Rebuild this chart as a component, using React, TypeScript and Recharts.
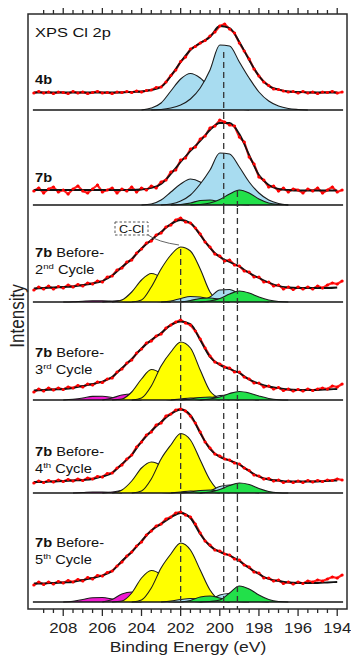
import { ComposedChart, Area, Line, XAxis, YAxis, ReferenceLine } from 'recharts'

// binding energy sampling grid (eV), 0.25 eV steps from 209.5 down to 193.75
const energies = Array.from({ length: 64 }, (_, k) => 209.5 - 0.25 * k)
// the fitted envelopes are read on every second point (0.5 eV)
const minorTicks = Array.from({ length: 31 }, (_, k) => 209 - 0.5 * k)

type Peak = { from: number; y: number[] }

// ---- raw counts (red dots), one value per 0.25 eV ----
const p1Raw = [17, 18.5, 17, 18, 16.5, 18, 17.5, 16.5, 18.5, 17, 18, 16.5, 17.5, 18.5, 17, 17.5, 16.5, 18, 17.5, 18.5, 17.5, 19, 18, 19.5, 20, 22.5, 23, 28, 34.5, 40, 48.5, 53, 61, 63.5, 67, 69.5, 74, 78, 84, 86, 81, 77, 67, 59, 51, 41, 34, 28, 24.5, 21, 20.5, 19, 18, 18.5, 17, 18.5, 17, 18, 16.5, 18, 17.5, 18.5, 17, 18]
const p2Raw = [14, 17, 12, 16, 18, 13, 15, 11, 16, 19, 14, 12, 16, 20, 13, 15, 17, 12, 16, 14, 18, 13, 17, 15, 19, 17, 23, 25, 33, 35, 45, 47, 56, 58, 66, 69, 77, 79, 85, 83, 80, 79, 68, 63, 48, 41, 28, 25, 18, 19, 14, 17, 13, 16, 15, 12, 16, 14, 17, 12, 15, 18, 13, 15]
const p3Raw = [12, 15, 13, 16, 13, 15.5, 14, 17, 15, 17.5, 16, 19, 18, 21, 20, 25, 26, 32, 34, 40, 42, 49, 53, 59, 61, 67, 69, 75, 77, 82, 84, 80, 79, 74, 68, 60, 55, 48, 46, 41, 42, 37, 36, 31, 30, 25, 25, 20, 20, 16, 17, 13, 15, 12.5, 15, 13, 15, 13, 16, 14, 17, 19, 18, 21]
const p4Raw = [8, 11, 9, 12, 10, 12, 10.5, 13, 12, 14.5, 13, 16, 15, 18, 17.5, 21, 22, 28, 31, 37, 40, 47, 51, 57, 59, 64, 66, 72, 75, 78, 80, 77, 75, 69, 61, 52, 44, 38, 36, 33, 32, 28, 28, 23, 21, 17, 17, 13, 14, 11, 12.5, 9.5, 11, 9, 10.5, 9, 11, 9.5, 11, 12, 11, 14, 13, 16]
const p5Raw = [10, 12, 10.5, 12.5, 11, 13, 11.5, 13.5, 12, 14, 12.5, 15, 14, 16.5, 16, 19.5, 20, 25, 28, 34, 38, 46, 51, 58, 61, 68, 70, 77, 79, 83, 84, 82, 77, 70, 61, 51, 45, 39, 37, 34, 33, 30, 29, 25, 22.5, 18, 17, 14, 14.5, 12, 13, 10.5, 12, 10.5, 12, 10.5, 12.5, 11, 12.5, 11.5, 13, 12.5, 14, 13]
const p6Raw = [17, 20, 17.5, 20, 18, 20.5, 19, 21.5, 20, 22.5, 21, 24.5, 23, 26.5, 26, 29.5, 31, 36, 40, 46, 50, 56, 60, 67, 71, 76, 78, 83, 85, 89, 90, 87, 85, 78, 69, 61, 57, 52, 51, 48, 47, 43, 42, 37, 35, 30, 29, 24, 24, 21, 22, 18.5, 20, 18, 20, 18.5, 21, 20, 22, 21, 23, 25, 24, 27]

// ---- fitted envelopes (black), one value per 0.5 eV from 209.5 to 194 ----
const p1Fit = [17.5, 17.5, 17.5, 17.5, 17.5, 17.5, 17.5, 17.5, 17.5, 17.5, 18, 18.5, 20, 23, 34, 48, 60, 67, 73, 84, 82, 68, 50, 34, 24, 20.5, 18.5, 18, 17.5, 17.5, 17.5, 17.5]
const p2Fit = [15, 15, 15, 15, 15, 15, 15, 15, 15, 15, 15, 15.5, 17, 21, 31, 43, 54, 64, 75, 82, 82, 71, 50, 30, 20, 16, 15, 14.5, 14.5, 14.5, 14.5, 14.5]
const p3Fit = [13.5, 14, 14.5, 15, 15.5, 17, 18.5, 21, 26.5, 35, 43, 53.5, 62, 70, 78, 82, 79, 67, 54, 45, 40, 35.5, 29, 24, 19.5, 16, 14.5, 14, 14, 14, 14, 14.5]
const p4Fit = [9.5, 10, 10.5, 11, 12, 14, 16, 18.5, 23, 32, 41, 51.5, 60, 67, 75, 78.5, 76, 60, 43, 35, 31, 27, 20.5, 16.5, 13.5, 12, 10.5, 10, 10, 10, 10.5, 11]
const p5Fit = [11, 11, 11.5, 12, 12.5, 13, 14, 16.5, 20, 29, 38, 51.5, 62, 71, 79, 83.5, 78, 60, 44, 36, 32.5, 28.5, 22, 16.5, 13.5, 12.5, 11.5, 11.5, 11.5, 11.5, 12, 12.5]
const p6Fit = [18.5, 18.5, 19, 19.5, 20, 22, 24, 26.5, 31, 41, 50, 61, 71.5, 78, 84.5, 89, 84, 68, 56, 50, 46.5, 41, 34, 28, 23, 21, 19.5, 19, 19, 19, 19.5, 20]

// ---- fitted components, 0.5 eV steps starting at `from` ----
const p1BlueA: Peak = { from: 204, y: [0, 2, 7, 19, 31, 36.5, 32, 22, 11, 4, 1, 0] }
const p1BlueB: Peak = { from: 203.5, y: [0, 0.5, 2, 5, 11, 22, 40, 65, 64, 48, 32, 18, 9, 4, 1.5, 0.5, 0] }

const p2BlueA: Peak = { from: 204, y: [0, 1, 5, 13, 21, 26, 23, 15, 7, 2.5, 0.5, 0] }
const p2BlueB: Peak = { from: 203, y: [0, 1, 4, 10, 21, 35, 52, 51, 38, 23, 12, 5, 1.5, 0] }
const p2GreenA: Peak = { from: 202.5, y: [0, 0.5, 2, 4.5, 5, 3, 1, 0] }
const p2GreenB: Peak = { from: 201.5, y: [0, 0.5, 2, 5.5, 11, 15, 12, 6, 2, 0.5, 0] }

const p3MagA: Peak = { from: 208, y: [0, 0.3, 0.8, 1.2, 1.2, 0.8, 0.3, 0] }
const p3MagB: Peak = { from: 206, y: [0, 0.8, 1.8, 2.2, 1.8, 0.8, 0.2, 0] }
const p3YelA: Peak = { from: 205.5, y: [0, 2, 10, 22, 28.5, 24, 12, 4, 1, 0] }
const p3YelB: Peak = { from: 204.5, y: [0, 2, 15, 33, 47, 55, 51, 33, 10, 1, 0] }
const p3BlueA: Peak = { from: 203, y: [0, 1, 3.5, 5.5, 5, 3, 1, 0] }
const p3BlueB: Peak = { from: 201.5, y: [0, 1, 5, 12, 12.5, 8, 3.5, 1, 0] }
const p3GreenA: Peak = { from: 202, y: [0, 1.5, 3.5, 4, 2.5, 1, 0] }
const p3GreenB: Peak = { from: 201, y: [0, 1, 3.5, 8, 11, 9, 5, 2, 0.5, 0] }

const p4MagA: Peak = { from: 208, y: [0, 0.8, 2, 3.6, 3.8, 2.5, 1, 0.3, 0] }
const p4MagB: Peak = { from: 206, y: [0, 2, 5, 6, 4.5, 2, 0.8, 0] }
const p4YelA: Peak = { from: 205.5, y: [0, 1, 8, 21, 30.5, 26, 14, 5, 1, 0] }
const p4YelB: Peak = { from: 204.5, y: [0, 2, 14, 34, 48, 58, 52, 30, 9, 2, 0] }
const p4BlueA: Peak = { from: 202.5, y: [0, 1, 2, 2, 1, 0] }
const p4BlueB: Peak = { from: 201, y: [0, 1.5, 4.5, 5, 3, 1, 0] }
const p4GreenA: Peak = { from: 202, y: [0, 1, 2.5, 3, 2, 0.8, 0] }
const p4GreenB: Peak = { from: 201, y: [0, 1, 3, 6.5, 8.5, 7, 4, 1.5, 0.3, 0] }

const p5MagA: Peak = { from: 207.5, y: [0, 0.5, 1, 1, 0.5, 0] }
const p5MagB: Peak = { from: 206, y: [0, 1, 2.5, 3.5, 3, 1.5, 0.5, 0] }
const p5YelA: Peak = { from: 205.5, y: [0, 3, 12, 25, 31, 27, 15, 5, 1, 0] }
const p5YelB: Peak = { from: 204.5, y: [0, 2, 14, 34, 48, 59.5, 53, 33, 13, 2, 0] }
const p5BlueA: Peak = { from: 202.5, y: [0, 1, 2, 1.8, 1, 0] }
const p5BlueB: Peak = { from: 201, y: [0, 2, 6.5, 8, 4.5, 1.5, 0] }
const p5GreenA: Peak = { from: 202, y: [0, 1, 2.5, 3, 2, 0.8, 0] }
const p5GreenB: Peak = { from: 201, y: [0, 1, 3.5, 7.5, 10, 8.5, 4.5, 1.5, 0.3, 0] }

const p6MagA: Peak = { from: 208, y: [0, 0.8, 2.5, 4.3, 4.5, 3, 1.2, 0.3, 0] }
const p6MagB: Peak = { from: 206, y: [0, 2.5, 8, 10, 7.5, 3.5, 1.2, 0.3, 0] }
const p6YelA: Peak = { from: 205.5, y: [0, 1, 9, 24, 31.5, 27, 15, 5, 1, 0] }
const p6YelB: Peak = { from: 204.5, y: [0, 2, 14, 34, 48, 59, 52, 32, 12, 2, 0] }
const p6BlueA: Peak = { from: 203, y: [0, 1, 2.5, 3.5, 3, 1.5, 0.5, 0] }
const p6BlueB: Peak = { from: 201, y: [0, 2, 7, 8.5, 5, 2, 0.5, 0] }
const p6GreenA: Peak = { from: 202, y: [0, 1.5, 5, 6, 4, 1.5, 0.3, 0] }
const p6GreenB: Peak = { from: 201, y: [0, 0.5, 2, 9, 16, 13, 7, 2.5, 0.5, 0] }

const BLUE = '#a8dcf0'
const GREEN = '#22e04a'
const YELLOW = '#ffff00'
const MAGENTA = '#f01ad0'
const FONT = '"Liberation Sans", Arial, sans-serif'
const X_DOMAIN: [number, number] = [193.5, 209.8]

function buildRows(raw: number[], fit: number[], peaks: Peak[]) {
  return energies.map((e, k) => {
    const row: Record<string, number | undefined> = { e, raw: raw[k] }
    if (k % 2 === 0) row.fit = fit[k / 2]
    peaks.forEach((p, i) => {
      const j = (p.from - e) / 0.5
      const r = Math.round(j)
      if (Math.abs(j - r) < 1e-6 && r >= 0 && r < p.y.length) row['c' + i] = p.y[r]
    })
    return row
  })
}

const topTick = (props: any) => {
  const { x, y, payload } = props
  const len = payload.value % 2 === 0 ? 6 : 4
  return <line x1={x} x2={x} y1={y} y2={y - len} stroke="#2a2a2a" strokeWidth={1.3} />
}

const bottomTick = (props: any) => {
  const { x, y, payload } = props
  const major = payload.value % 2 === 0
  return (
    <g>
      <line x1={x} x2={x} y1={y} y2={y + (major ? 7 : 4)} stroke="#2a2a2a" strokeWidth={1.3} />
      {major && (
        <g transform={`translate(${x},${y + 24}) scale(1.2,1)`}>
          <text textAnchor="middle" fontSize={14} fontFamily={FONT} fill="#222">
            {payload.value}
          </text>
        </g>
      )}
    </g>
  )
}

type PanelProps = {
  top: number
  height: number
  domain: [number, number]
  raw: number[]
  fit: number[]
  peaks: [Peak, string][]
  dashes: [number, number][]
  axis?: 'top' | 'bottom'
}

function Panel({ top, height, domain, raw, fit, peaks, dashes, axis }: PanelProps) {
  const rows = buildRows(raw, fit, peaks.map((p) => p[0]))
  return (
    <div style={{ position: 'absolute', left: 0, top }}>
      <ComposedChart width={351} height={height} data={rows} margin={{ top: 0, right: 4, bottom: 0, left: 28 }}>
        <XAxis
          dataKey="e"
          type="number"
          domain={X_DOMAIN}
          reversed
          allowDataOverflow
          hide={!axis}
          orientation={axis === 'top' ? 'top' : 'bottom'}
          height={axis === 'top' ? 14 : 48}
          ticks={minorTicks}
          interval={0}
          tickSize={0}
          tickMargin={0}
          axisLine={false}
          tickLine={false}
          tick={axis === 'top' ? topTick : bottomTick}
        />
        <YAxis type="number" domain={domain} hide allowDataOverflow />
        {peaks.map(([, color], i) => (
          <Area
            key={i}
            dataKey={'c' + i}
            type="monotone"
            baseValue={0}
            connectNulls
            fill={color}
            fillOpacity={1}
            stroke="#1c1c1c"
            strokeWidth={1.1}
            dot={false}
            activeDot={false}
            isAnimationActive={false}
          />
        ))}
        <ReferenceLine segment={[{ x: 209.55, y: 0 }, { x: 193.7, y: 0 }]} stroke="#141414" strokeWidth={1.6} />
        <Line dataKey="raw" type="linear" stroke="#ff2020" strokeWidth={2.2} dot={{ r: 1.6, fill: '#ff0000', stroke: 'none' }} activeDot={false} isAnimationActive={false} />
        <Line dataKey="fit" type="monotone" connectNulls stroke="#111" strokeWidth={1.8} dot={false} activeDot={false} isAnimationActive={false} />
        {dashes.map(([x, y0]) => (
          <ReferenceLine key={x} segment={[{ x, y: y0 }, { x, y: domain[0] }]} stroke="#333" strokeWidth={1.3} strokeDasharray="6 4" />
        ))}
      </ComposedChart>
    </div>
  )
}

function Label({ x, y, bold, children, size = 12.2 }: any) {
  return (
    <g transform={`translate(${x},${y}) scale(1.2,1)`}>
      <text fontSize={size} fontFamily={FONT} fill="#111" fontWeight={bold ? 'bold' : 'normal'}>
        {children}
      </text>
    </g>
  )
}

function CycleLabel({ y, n, sup }: { y: number; n: string; sup: string }) {
  return (
    <>
      <g transform={`translate(35,${y}) scale(1.2,1)`}>
        <text fontSize={12.2} fontFamily={FONT} fill="#111">
          <tspan fontWeight="bold">7b</tspan>
          <tspan> Before-</tspan>
        </text>
      </g>
      <g transform={`translate(35,${y + 17}) scale(1.2,1)`}>
        <text fontSize={12.2} fontFamily={FONT} fill="#111">
          <tspan>{n}</tspan>
          <tspan fontSize={8} dy={-5}>{sup}</tspan>
          <tspan dy={5}> Cycle</tspan>
        </text>
      </g>
    </>
  )
}

export default function App() {
  const later = (mA: Peak, mB: Peak, yA: Peak, yB: Peak, bA: Peak, bB: Peak, gA: Peak, gB: Peak): [Peak, string][] => [
    [mA, MAGENTA],
    [mB, MAGENTA],
    [yA, YELLOW],
    [yB, YELLOW],
    [bA, BLUE],
    [bB, BLUE],
    [gA, GREEN],
    [gB, GREEN],
  ]
  return (
    <div style={{ position: 'absolute', left: 0, top: 0, width: 351, height: 657, background: '#fff', overflow: 'hidden' }}>
      <Panel top={0} height={113} domain={[-3, 96]} raw={p1Raw} fit={p1Fit} axis="top"
        peaks={[[p1BlueA, BLUE], [p1BlueB, BLUE]]} dashes={[[199.8, 58]]} />
      <Panel top={113} height={95} domain={[-3, 92]} raw={p2Raw} fit={p2Fit}
        peaks={[[p2BlueA, BLUE], [p2BlueB, BLUE], [p2GreenA, GREEN], [p2GreenB, GREEN]]}
        dashes={[[199.8, 92], [199.1, 14]]} />
      <Panel top={208} height={97} domain={[-3, 94]} raw={p3Raw} fit={p3Fit}
        peaks={later(p3MagA, p3MagB, p3YelA, p3YelB, p3BlueA, p3BlueB, p3GreenA, p3GreenB)}
        dashes={[[202, 53], [199.8, 94], [199.1, 94]]} />
      <Panel top={305} height={98} domain={[-3, 95]} raw={p4Raw} fit={p4Fit}
        peaks={later(p4MagA, p4MagB, p4YelA, p4YelB, p4BlueA, p4BlueB, p4GreenA, p4GreenB)}
        dashes={[[202, 95], [199.8, 95], [199.1, 95]]} />
      <Panel top={403} height={93} domain={[-3, 90]} raw={p5Raw} fit={p5Fit}
        peaks={later(p5MagA, p5MagB, p5YelA, p5YelB, p5BlueA, p5BlueB, p5GreenA, p5GreenB)}
        dashes={[[202, 90], [199.8, 90], [199.1, 90]]} />
      <Panel top={496} height={161} domain={[-7, 106]} raw={p6Raw} fit={p6Fit} axis="bottom"
        peaks={later(p6MagA, p6MagB, p6YelA, p6YelB, p6BlueA, p6BlueB, p6GreenA, p6GreenB)}
        dashes={[[202, 106], [199.8, 106], [199.1, 106]]} />

      <svg width={351} height={657} style={{ position: 'absolute', left: 0, top: 0, pointerEvents: 'none' }}>
        <rect x={28} y={14} width={319} height={595} fill="none" stroke="#2a2a2a" strokeWidth={1.5} />
        <Label x={35} y={36.5} size={13.7}>XPS Cl 2p</Label>
        <Label x={35} y={84} bold>4b</Label>
        <Label x={35} y={182} bold>7b</Label>
        <CycleLabel y={257} n="2" sup="nd" />
        <CycleLabel y={357} n="3" sup="rd" />
        <CycleLabel y={456} n="4" sup="th" />
        <CycleLabel y={547} n="5" sup="th" />
        <rect x={115} y={222} width={33} height={13} fill="none" stroke="#555" strokeWidth={1} strokeDasharray="2.5 2" />
        <Label x={119} y={232.5} size={10.5}>C-Cl</Label>
        <path d="M148 235 Q158 242 179 245" fill="none" stroke="#666" strokeWidth={1} />
        <g transform="translate(188,652) scale(1.2,1)">
          <text textAnchor="middle" fontSize={14.6} fontFamily={FONT} fill="#222">Binding Energy (eV)</text>
        </g>
        <g transform="translate(24,316) rotate(-90) scale(1,1.2)">
          <text textAnchor="middle" fontSize={17} fontFamily={FONT} fill="#222">Intensity</text>
        </g>
      </svg>
    </div>
  )
}
